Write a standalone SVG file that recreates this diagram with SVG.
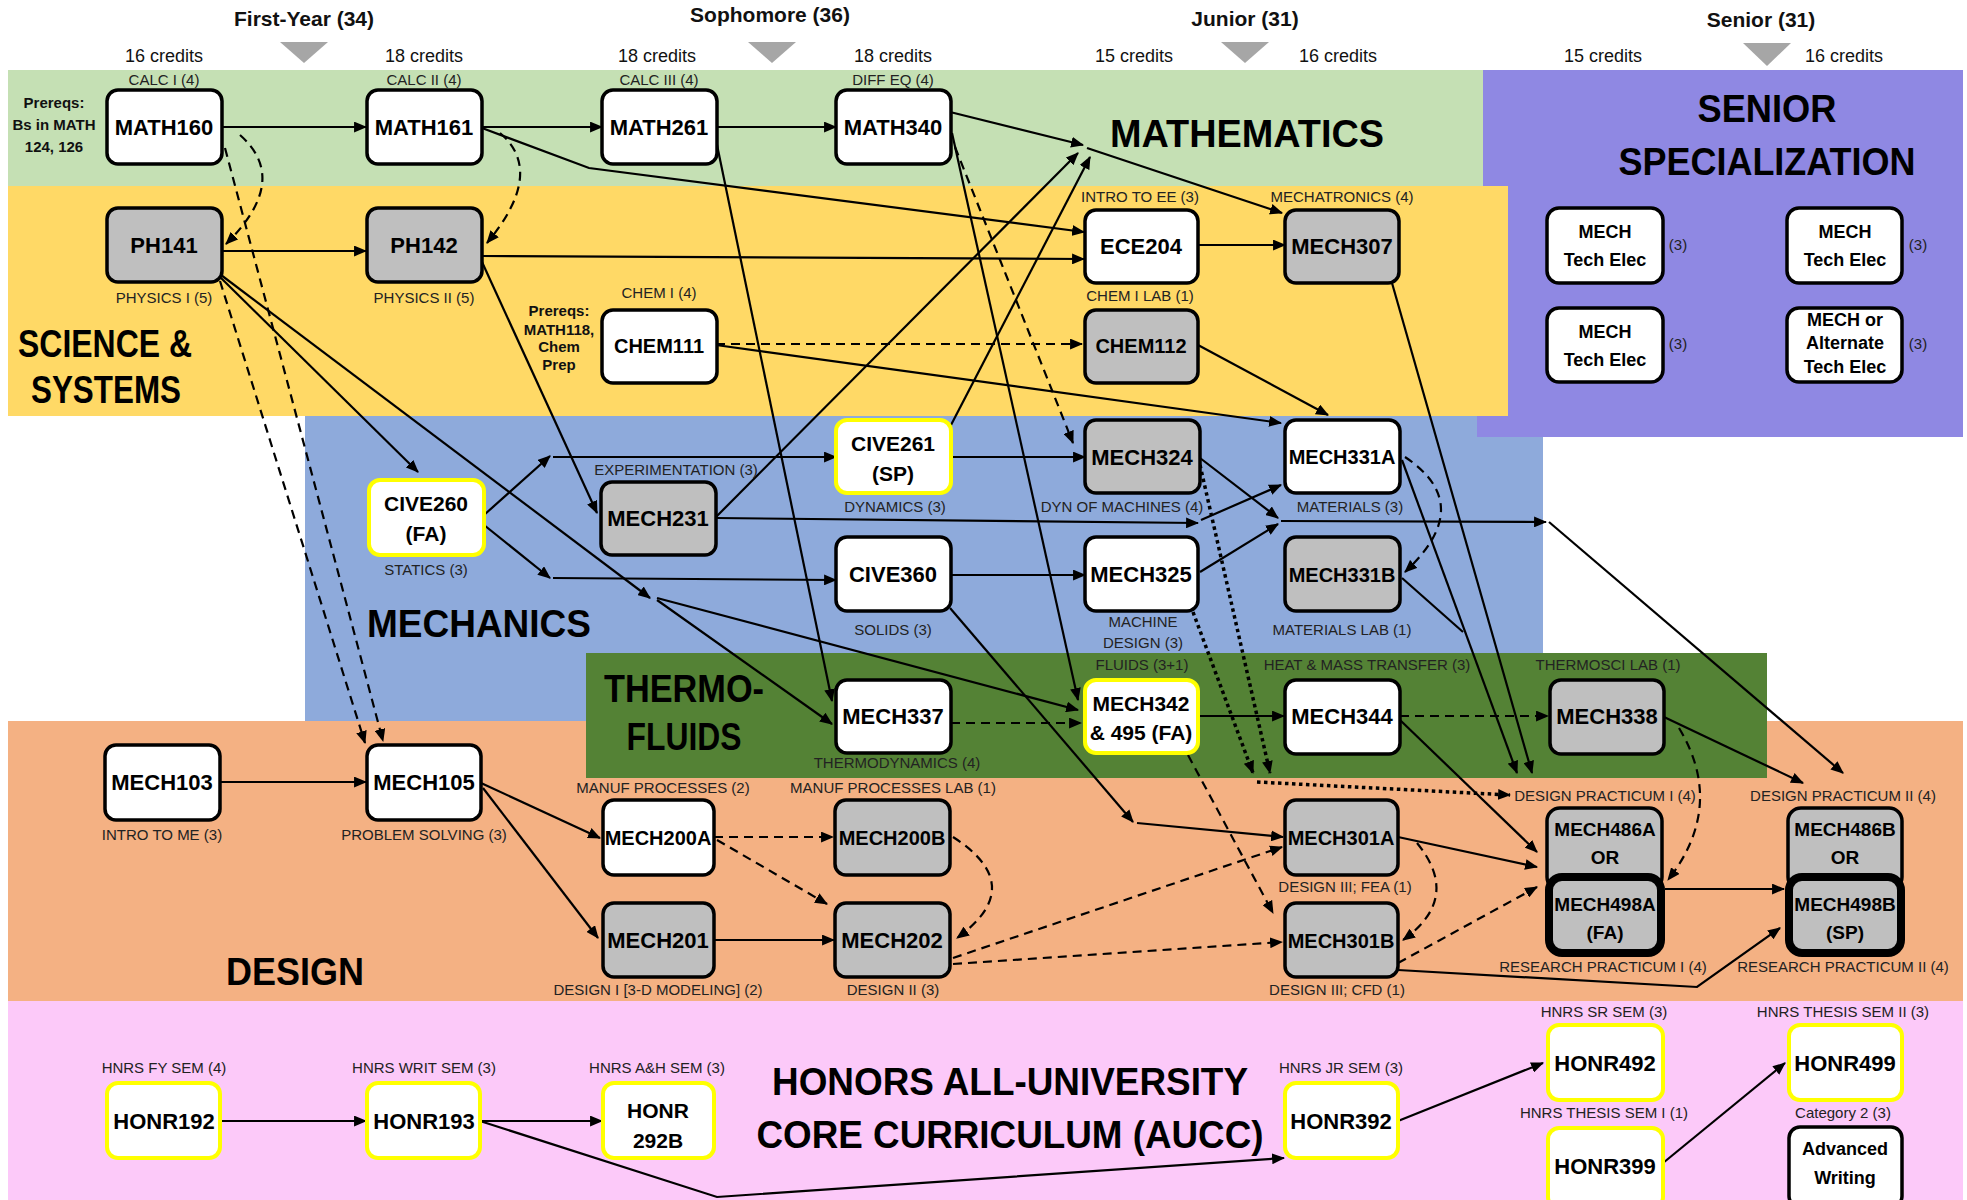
<svg xmlns="http://www.w3.org/2000/svg" width="1967" height="1200" viewBox="0 0 1967 1200">
<style>
text{font-family:"Liberation Sans",Arial,sans-serif}
.hd{font-size:21px;font-weight:bold;text-anchor:middle;fill:#111}
.cr{font-size:18px;text-anchor:middle;fill:#111}
.lb{font-size:15px;text-anchor:middle;fill:#222}
.pq{font-size:15px;font-weight:bold;text-anchor:middle;fill:#111}
.nt{font-size:22px;font-weight:bold;text-anchor:middle;fill:#000}
.n8{font-size:20px;font-weight:bold;text-anchor:middle;fill:#000}
.n2{font-size:21px;font-weight:bold;text-anchor:middle;fill:#000}
.te{font-size:18px;font-weight:bold;text-anchor:middle;fill:#000}
.cp{font-size:19px;font-weight:bold;text-anchor:middle;fill:#000}
.big{font-size:38px;font-weight:bold;text-anchor:middle;fill:#000}
.w{fill:#fff;stroke:#000;stroke-width:3.5}
.g{fill:#bfbfbf;stroke:#000;stroke-width:3.5}
.y{fill:#fff;stroke:#ffff00;stroke-width:4}
.gt{fill:#bfbfbf;stroke:#000;stroke-width:8}
.c{fill:none;stroke:#000;stroke-width:2.2;marker-end:url(#ah)}
.cn{fill:none;stroke:#000;stroke-width:2.2}
.d{stroke-dasharray:9 6}
.t{stroke-dasharray:3.5 3.5;stroke-width:3.5}
.tri{fill:#a6a6a6}
</style>
<defs>
<marker id="ah" viewBox="0 0 12 10" refX="11" refY="5" markerWidth="13" markerHeight="11" markerUnits="userSpaceOnUse" orient="auto"><path d="M0,0 L12,5 L0,10 z" fill="#000"/></marker>
</defs>
<rect width="1967" height="1200" fill="#fff"/>
<g id="bands">
<rect x="305" y="416" width="1238" height="305" fill="#8eaadb"/>
<rect x="1477" y="70" width="486" height="367" fill="#8f88e3"/>
<rect x="8" y="70" width="1475" height="116" fill="#c5e0b4"/>
<rect x="8" y="186" width="1500" height="230" fill="#ffd966"/>
<rect x="8" y="721" width="1955" height="280" fill="#f4b183"/>
<rect x="586" y="653" width="1181" height="125" fill="#548235"/>
<rect x="8" y="1001" width="1955" height="199" fill="#fcc9f9"/>
</g>
<g id="headers">
<text class="hd" x="304" y="26">First-Year (34)</text>
<text class="hd" x="770" y="22">Sophomore (36)</text>
<text class="hd" x="1245" y="26">Junior (31)</text>
<text class="hd" x="1761" y="27">Senior (31)</text>
<polygon class="tri" points="280,42 328,42 304,63"/>
<polygon class="tri" points="748,42 796,42 772,63"/>
<polygon class="tri" points="1221,42 1269,42 1245,63"/>
<polygon class="tri" points="1743,43 1791,43 1767,66"/>
<text class="cr" x="164" y="62">16 credits</text>
<text class="cr" x="424" y="62">18 credits</text>
<text class="cr" x="657" y="62">18 credits</text>
<text class="cr" x="893" y="62">18 credits</text>
<text class="cr" x="1134" y="62">15 credits</text>
<text class="cr" x="1338" y="62">16 credits</text>
<text class="cr" x="1603" y="62">15 credits</text>
<text class="cr" x="1844" y="62">16 credits</text>
</g>
<g id="area-labels">
<text class="big" x="1247" y="147" textLength="274" lengthAdjust="spacingAndGlyphs">MATHEMATICS</text>
<text class="big" x="1767" y="122" textLength="139" lengthAdjust="spacingAndGlyphs">SENIOR</text>
<text class="big" x="1767" y="175" textLength="297" lengthAdjust="spacingAndGlyphs">SPECIALIZATION</text>
<text class="big" x="105" y="357" textLength="174" lengthAdjust="spacingAndGlyphs">SCIENCE &amp;</text>
<text class="big" x="106" y="403" textLength="150" lengthAdjust="spacingAndGlyphs">SYSTEMS</text>
<text class="big" x="479" y="637" textLength="224" lengthAdjust="spacingAndGlyphs">MECHANICS</text>
<text class="big" x="684" y="702" textLength="160" lengthAdjust="spacingAndGlyphs">THERMO-</text>
<text class="big" x="684" y="750" textLength="115" lengthAdjust="spacingAndGlyphs">FLUIDS</text>
<text class="big" x="295" y="985" textLength="138" lengthAdjust="spacingAndGlyphs">DESIGN</text>
<text class="big" x="1010" y="1095" textLength="476" lengthAdjust="spacingAndGlyphs">HONORS ALL-UNIVERSITY</text>
<text class="big" x="1010" y="1148" textLength="507" lengthAdjust="spacingAndGlyphs">CORE CURRICULUM (AUCC)</text>
<text class="pq" x="54" y="108">Prereqs:</text>
<text class="pq" x="54" y="130">Bs in MATH</text>
<text class="pq" x="54" y="152">124, 126</text>
<text class="pq" x="559" y="316">Prereqs:</text>
<text class="pq" x="559" y="335">MATH118,</text>
<text class="pq" x="559" y="352">Chem</text>
<text class="pq" x="559" y="370">Prep</text>
</g>
<g id="connectors">
<path class="c" d="M222,127 L366,127"/>
<path class="c" d="M482,127 L602,127"/>
<path class="c" d="M716,127 L836,127"/>
<path class="c" d="M221,251 L366,251"/>
<path class="c" d="M482,128 L589,168 L1084,232"/>
<path class="c" d="M482,256 L1084,259"/>
<path class="c" d="M1198,245 L1285,245"/>
<path class="c" d="M950,112 L1083,145"/>
<path class="c" d="M716,517 L1078,153"/>
<path class="c" d="M951,425 L1090,157"/>
<path class="c" d="M1087,148 L1282,213"/>
<path class="c" d="M716,140 L832,701"/>
<path class="c" d="M952,133 L1078,700"/>
<path class="c" d="M221,278 L418,472"/>
<path class="c" d="M221,275 L650,598"/>
<path class="c" d="M657,600 L832,724"/>
<path class="c" d="M657,598 L1078,710"/>
<path class="c" d="M482,262 L597,513"/>
<path class="c" d="M716,345 L1281,423"/>
<path class="c" d="M1198,345 L1328,415"/>
<path class="c" d="M484,515 L550,456"/>
<path class="c" d="M553,457 L836,457"/>
<path class="c" d="M484,525 L550,578"/>
<path class="c" d="M553,578 L836,580"/>
<path class="c" d="M951,457 L1085,457"/>
<path class="c" d="M951,575 L1085,575"/>
<path class="c" d="M716,518 L1198,523"/>
<path class="c" d="M1201,520 L1281,485"/>
<path class="c" d="M1200,458 L1278,518"/>
<path class="c" d="M1200,572 L1278,524"/>
<path class="c" d="M1281,521 L1546,522"/>
<path class="c" d="M1549,522 L1843,773"/>
<path class="c" d="M950,608 L1133,822"/>
<path class="c" d="M1137,823 L1283,837"/>
<path class="c" d="M1198,716 L1284,716"/>
<path class="c" d="M1400,720 L1537,852"/>
<path class="c" d="M1664,717 L1803,783"/>
<path class="c" d="M1665,889 L1784,889"/>
<path class="c" d="M1398,970 L1697,987 L1780,928"/>
<path class="c" d="M1398,837 L1537,867"/>
<path class="c" d="M1392,283 L1532,773"/>
<path class="c" d="M1402,460 L1517,773"/>
<path class="cn" d="M1402,578 L1463,632"/>
<path class="c" d="M220,782 L366,782"/>
<path class="c" d="M481,783 L600,838"/>
<path class="c" d="M483,788 L598,938"/>
<path class="c" d="M714,940 L834,940"/>
<path class="c" d="M220,1121 L366,1121"/>
<path class="c" d="M480,1121 L602,1121"/>
<path class="c" d="M480,1121 L717,1197 L1284,1158"/>
<path class="c" d="M1398,1121 L1543,1063"/>
<path class="c" d="M1663,1163 L1785,1063"/>
<path class="c d" d="M240,135 Q291,180 226,244"/>
<path class="c d" d="M500,133 Q546,172 487,243"/>
<path class="c d" d="M225,148 L383,741"/>
<path class="c d" d="M220,281 L365,743"/>
<path class="c d" d="M716,344 L1082,344"/>
<path class="c d" d="M955,147 L1073,443"/>
<path class="c d" d="M951,723 L1081,723"/>
<path class="c d" d="M1400,716 L1548,716"/>
<path class="c d" d="M1679,728 Q1726,806 1668,880"/>
<path class="c d" d="M1188,755 L1273,913"/>
<path class="c d" d="M1417,843 Q1462,898 1403,940"/>
<path class="c d" d="M1398,963 L1537,887"/>
<path class="c d" d="M953,958 L1282,847"/>
<path class="c d" d="M953,964 L1282,942"/>
<path class="c d" d="M953,837 Q1029,886 957,938"/>
<path class="c d" d="M714,837 L833,837"/>
<path class="c d" d="M717,840 L827,904"/>
<path class="c d" d="M1405,457 Q1477,505 1405,572"/>
<path class="c t" d="M1200,465 L1270,773"/>
<path class="c t" d="M1193,612 L1253,773"/>
<path class="c t" d="M1257,782 L1510,795"/>
</g>
<g id="MATH160"><text class="lb" x="164" y="85">CALC I (4)</text><rect class="w" x="107" y="90" width="115" height="74" rx="11"/><text class="nt" x="164" y="135">MATH160</text></g>
<g id="MATH161"><text class="lb" x="424" y="85">CALC II (4)</text><rect class="w" x="367" y="90" width="115" height="74" rx="11"/><text class="nt" x="424" y="135">MATH161</text></g>
<g id="MATH261"><text class="lb" x="659" y="85">CALC III (4)</text><rect class="w" x="602" y="90" width="115" height="74" rx="11"/><text class="nt" x="659" y="135">MATH261</text></g>
<g id="MATH340"><text class="lb" x="893" y="85">DIFF EQ (4)</text><rect class="w" x="836" y="90" width="115" height="74" rx="11"/><text class="nt" x="893" y="135">MATH340</text></g>
<g id="PH141"><rect class="g" x="107" y="208" width="115" height="74" rx="11"/><text class="nt" x="164" y="253">PH141</text><text class="lb" x="164" y="303">PHYSICS I (5)</text></g>
<g id="PH142"><rect class="g" x="367" y="208" width="115" height="74" rx="11"/><text class="nt" x="424" y="253">PH142</text><text class="lb" x="424" y="303">PHYSICS II (5)</text></g>
<g id="ECE204"><text class="lb" x="1140" y="202">INTRO TO EE (3)</text><rect class="w" x="1085" y="210" width="113" height="73" rx="11"/><text class="nt" x="1141" y="254">ECE204</text></g>
<g id="MECH307"><text class="lb" x="1342" y="202">MECHATRONICS (4)</text><rect class="g" x="1285" y="210" width="114" height="73" rx="11"/><text class="nt" x="1342" y="254">MECH307</text></g>
<g id="CHEM111"><text class="lb" x="659" y="298">CHEM I (4)</text><rect class="w" x="602" y="310" width="115" height="73" rx="11"/><text class="n8" x="659" y="353">CHEM111</text></g>
<g id="CHEM112"><text class="lb" x="1140" y="301">CHEM I LAB (1)</text><rect class="g" x="1085" y="310" width="113" height="73" rx="11"/><text class="n8" x="1141" y="353">CHEM112</text></g>
<g id="TE1"><rect class="w" x="1547" y="208" width="116" height="75" rx="12"/><text class="te" x="1605" y="238">MECH</text><text class="te" x="1605" y="266">Tech Elec</text><text class="lb" x="1678" y="250">(3)</text></g>
<g id="TE2"><rect class="w" x="1787" y="208" width="115" height="75" rx="12"/><text class="te" x="1845" y="238">MECH</text><text class="te" x="1845" y="266">Tech Elec</text><text class="lb" x="1918" y="250">(3)</text></g>
<g id="TE3"><rect class="w" x="1547" y="308" width="116" height="74" rx="12"/><text class="te" x="1605" y="338">MECH</text><text class="te" x="1605" y="366">Tech Elec</text><text class="lb" x="1678" y="349">(3)</text></g>
<g id="TE4"><rect class="w" x="1787" y="308" width="115" height="74" rx="12"/><text class="te" x="1845" y="326">MECH or</text><text class="te" x="1845" y="349">Alternate</text><text class="te" x="1845" y="373">Tech Elec</text><text class="lb" x="1918" y="349">(3)</text></g>
<g id="CIVE261"><rect class="y" x="836" y="420" width="115" height="73" rx="11"/><text class="n2" x="893" y="451">CIVE261</text><text class="n2" x="893" y="481">(SP)</text><text class="lb" x="895" y="512">DYNAMICS (3)</text></g>
<g id="MECH324"><rect class="g" x="1085" y="420" width="115" height="73" rx="11"/><text class="nt" x="1142" y="465">MECH324</text><text class="lb" x="1122" y="512">DYN OF MACHINES (4)</text></g>
<g id="MECH331A"><rect class="w" x="1285" y="420" width="115" height="73" rx="11"/><text class="n8" x="1342" y="464">MECH331A</text><text class="lb" x="1350" y="512">MATERIALS (3)</text></g>
<g id="CIVE260"><rect class="y" x="369" y="480" width="115" height="75" rx="11"/><text class="n2" x="426" y="511">CIVE260</text><text class="n2" x="426" y="541">(FA)</text><text class="lb" x="426" y="575">STATICS (3)</text></g>
<g id="MECH231"><text class="lb" x="676" y="475">EXPERIMENTATION (3)</text><rect class="g" x="601" y="482" width="115" height="73" rx="11"/><text class="nt" x="658" y="526">MECH231</text></g>
<g id="CIVE360"><rect class="w" x="836" y="537" width="115" height="74" rx="11"/><text class="nt" x="893" y="582">CIVE360</text><text class="lb" x="893" y="635">SOLIDS (3)</text></g>
<g id="MECH325"><rect class="w" x="1085" y="537" width="113" height="74" rx="11"/><text class="nt" x="1141" y="582">MECH325</text><text class="lb" x="1143" y="627">MACHINE</text><text class="lb" x="1143" y="648">DESIGN (3)</text></g>
<g id="MECH331B"><rect class="g" x="1285" y="537" width="115" height="74" rx="11"/><text class="n8" x="1342" y="582">MECH331B</text><text class="lb" x="1342" y="635">MATERIALS LAB (1)</text></g>
<g id="MECH337"><rect class="w" x="836" y="680" width="115" height="73" rx="11"/><text class="nt" x="893" y="724">MECH337</text><text class="lb" x="897" y="768">THERMODYNAMICS (4)</text></g>
<g id="MECH342"><text class="lb" x="1142" y="670">FLUIDS (3+1)</text><rect class="y" x="1085" y="680" width="113" height="73" rx="11"/><text class="n2" x="1141" y="711">MECH342</text><text class="n2" x="1141" y="740">&amp; 495 (FA)</text></g>
<g id="MECH344"><text class="lb" x="1367" y="670">HEAT &amp; MASS TRANSFER (3)</text><rect class="w" x="1285" y="680" width="115" height="74" rx="11"/><text class="nt" x="1342" y="724">MECH344</text></g>
<g id="MECH338"><text class="lb" x="1608" y="670">THERMOSCI LAB (1)</text><rect class="g" x="1550" y="680" width="114" height="74" rx="11"/><text class="nt" x="1607" y="724">MECH338</text></g>
<g id="MECH103"><rect class="w" x="105" y="745" width="115" height="75" rx="11"/><text class="nt" x="162" y="790">MECH103</text><text class="lb" x="162" y="840">INTRO TO ME (3)</text></g>
<g id="MECH105"><rect class="w" x="367" y="745" width="114" height="75" rx="11"/><text class="nt" x="424" y="790">MECH105</text><text class="lb" x="424" y="840">PROBLEM SOLVING (3)</text></g>
<g id="MECH200A"><text class="lb" x="663" y="793">MANUF PROCESSES (2)</text><rect class="w" x="603" y="800" width="111" height="75" rx="11"/><text class="n8" x="658" y="845">MECH200A</text></g>
<g id="MECH200B"><text class="lb" x="893" y="793">MANUF PROCESSES LAB (1)</text><rect class="g" x="835" y="800" width="115" height="75" rx="11"/><text class="n8" x="892" y="845">MECH200B</text></g>
<g id="MECH201"><rect class="g" x="603" y="903" width="111" height="74" rx="11"/><text class="nt" x="658" y="948">MECH201</text><text class="lb" x="658" y="995">DESIGN I [3-D MODELING] (2)</text></g>
<g id="MECH202"><rect class="g" x="835" y="903" width="115" height="74" rx="11"/><text class="nt" x="892" y="948">MECH202</text><text class="lb" x="893" y="995">DESIGN II (3)</text></g>
<g id="MECH301A"><rect class="g" x="1285" y="800" width="113" height="75" rx="11"/><text class="n8" x="1341" y="845">MECH301A</text><text class="lb" x="1345" y="892">DESIGN III; FEA (1)</text></g>
<g id="MECH301B"><rect class="g" x="1285" y="903" width="113" height="74" rx="11"/><text class="n8" x="1341" y="948">MECH301B</text><text class="lb" x="1337" y="995">DESIGN III; CFD (1)</text></g>
<g id="MECH486A-498A"><text class="lb" x="1605" y="801">DESIGN PRACTICUM I (4)</text><rect class="g" x="1547" y="808" width="115" height="82" rx="13"/><text class="cp" x="1605" y="836">MECH486A</text><text class="cp" x="1605" y="864">OR</text><rect class="gt" x="1549" y="877" width="112" height="76" rx="13"/><text class="cp" x="1605" y="911">MECH498A</text><text class="cp" x="1605" y="939">(FA)</text><text class="lb" x="1603" y="972">RESEARCH PRACTICUM I (4)</text></g>
<g id="MECH486B-498B"><text class="lb" x="1843" y="801">DESIGN PRACTICUM II (4)</text><rect class="g" x="1788" y="808" width="114" height="82" rx="13"/><text class="cp" x="1845" y="836">MECH486B</text><text class="cp" x="1845" y="864">OR</text><rect class="gt" x="1789" y="877" width="112" height="76" rx="13"/><text class="cp" x="1845" y="911">MECH498B</text><text class="cp" x="1845" y="939">(SP)</text><text class="lb" x="1843" y="972">RESEARCH PRACTICUM II (4)</text></g>
<g id="HONR192"><text class="lb" x="164" y="1073">HNRS FY SEM (4)</text><rect class="y" x="107" y="1083" width="113" height="75" rx="11"/><text class="nt" x="164" y="1129">HONR192</text></g>
<g id="HONR193"><text class="lb" x="424" y="1073">HNRS WRIT SEM (3)</text><rect class="y" x="367" y="1083" width="113" height="75" rx="11"/><text class="nt" x="424" y="1129">HONR193</text></g>
<g id="HONR292B"><text class="lb" x="657" y="1073">HNRS A&amp;H SEM (3)</text><rect class="y" x="603" y="1083" width="111" height="75" rx="11"/><text class="n2" x="658" y="1118">HONR</text><text class="n2" x="658" y="1148">292B</text></g>
<g id="HONR392"><text class="lb" x="1341" y="1073">HNRS JR SEM (3)</text><rect class="y" x="1285" y="1083" width="113" height="75" rx="11"/><text class="nt" x="1341" y="1129">HONR392</text></g>
<g id="HONR492"><text class="lb" x="1604" y="1017">HNRS SR SEM (3)</text><rect class="y" x="1548" y="1025" width="115" height="75" rx="11"/><text class="nt" x="1605" y="1071">HONR492</text></g>
<g id="HONR499"><text class="lb" x="1843" y="1017">HNRS THESIS SEM II (3)</text><rect class="y" x="1789" y="1025" width="113" height="75" rx="11"/><text class="nt" x="1845" y="1071">HONR499</text></g>
<g id="HONR399"><text class="lb" x="1604" y="1118">HNRS THESIS SEM I (1)</text><rect class="y" x="1548" y="1128" width="115" height="80" rx="11"/><text class="nt" x="1605" y="1174">HONR399</text></g>
<g id="AdvWriting"><text class="lb" x="1843" y="1118">Category 2 (3)</text><rect class="w" x="1789" y="1127" width="113" height="80" rx="11"/><text class="te" x="1845" y="1155">Advanced</text><text class="te" x="1845" y="1184">Writing</text></g>
</svg>
